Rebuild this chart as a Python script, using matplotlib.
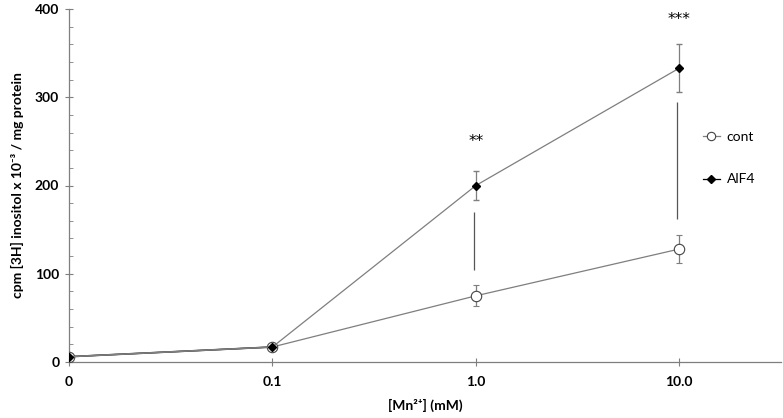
import matplotlib
matplotlib.use("Agg")
import matplotlib.pyplot as plt
from matplotlib.ticker import MultipleLocator
from matplotlib.lines import Line2D

plt.rcParams["font.family"] = ["Lato", "DejaVu Sans"]

# data
conc_labels = ["0", "0.1", "1.0", "10.0"]
cont = [6, 17, 75, 128]
cont_err = [0, 0, 12, 16]
alf4 = [6, 17, 200, 333]
alf4_err = [0, 0, 16, 27]

# significance marks
sig_idx = [2, 3]
sig_text = ["**", "***"]
sig_y = [250, 388]
sig_line_lo = [104, 162]
sig_line_hi = [170, 295]

x = list(range(len(conc_labels)))

fig, ax = plt.subplots(figsize=(7.83, 4.18), dpi=100)
fig.subplots_adjust(left=69 / 783, right=781 / 783, bottom=1 - 362 / 418, top=1 - 9 / 418)

grey = "#7f7f7f"

ax.errorbar(x, cont, yerr=cont_err, color=grey, lw=0.9, marker="o", ms=7.5,
            mfc="white", mec="#444444", mew=0.8, ecolor=grey, elinewidth=0.9,
            capsize=2.5, zorder=3)
ax.errorbar(x, alf4, yerr=alf4_err, color=grey, lw=0.9, marker="D", ms=4.5,
            mfc="black", mec="black", ecolor=grey, elinewidth=0.9,
            capsize=2.5, zorder=4)
# darker segment at the start where both series overlap
ax.plot(x[:2], alf4[:2], color="black", lw=1.2, zorder=2)

for i, t, ys, lo, hi in zip(sig_idx, sig_text, sig_y, sig_line_lo, sig_line_hi):
    ax.vlines(x[i] - 0.01, lo, hi, color="#555555", lw=0.9)
    ax.text(x[i], ys, t, ha="center", va="center", fontsize=11, family="DejaVu Sans")

ax.set_xlim(0, 3.5)
ax.set_ylim(0, 400)
ax.set_xticks(x)
ax.set_xticklabels(conc_labels, fontweight="bold", fontsize=10)
ax.yaxis.set_major_locator(MultipleLocator(100))
ax.yaxis.set_minor_locator(MultipleLocator(20))
for lab in ax.get_yticklabels():
    lab.set_fontweight("bold")
    lab.set_fontsize(10)

ax.tick_params(axis="y", which="major", direction="inout", length=6, color=grey, pad=4)
ax.tick_params(axis="y", which="minor", direction="in", length=3, color=grey)
ax.tick_params(axis="x", which="major", direction="inout", length=6, color=grey, pad=7)

for side in ["top", "right"]:
    ax.spines[side].set_visible(False)
for side in ["left", "bottom"]:
    ax.spines[side].set_color(grey)
    ax.spines[side].set_linewidth(0.9)

ax.set_xlabel("[Mn²⁺] (mM)", fontweight="bold", fontsize=10, labelpad=8)
ax.set_ylabel("cpm [3H] inositol x 10⁻³ / mg protein", fontweight="bold", fontsize=10, labelpad=8)

handles = [
    Line2D([], [], color=grey, lw=0.9, marker="o", ms=6, mfc="white", mec="#444444", mew=0.8),
    Line2D([], [], color="black", lw=0.9, marker="D", ms=4, mfc="black", mec="black"),
]
ax.legend(handles, ["cont", "AlF4"], loc="upper left", bbox_to_anchor=(0.873, 0.69),
          frameon=False, handlelength=1.2, handletextpad=0.5, labelspacing=2.2, fontsize=10)

fig.savefig("out.png", dpi=100)
